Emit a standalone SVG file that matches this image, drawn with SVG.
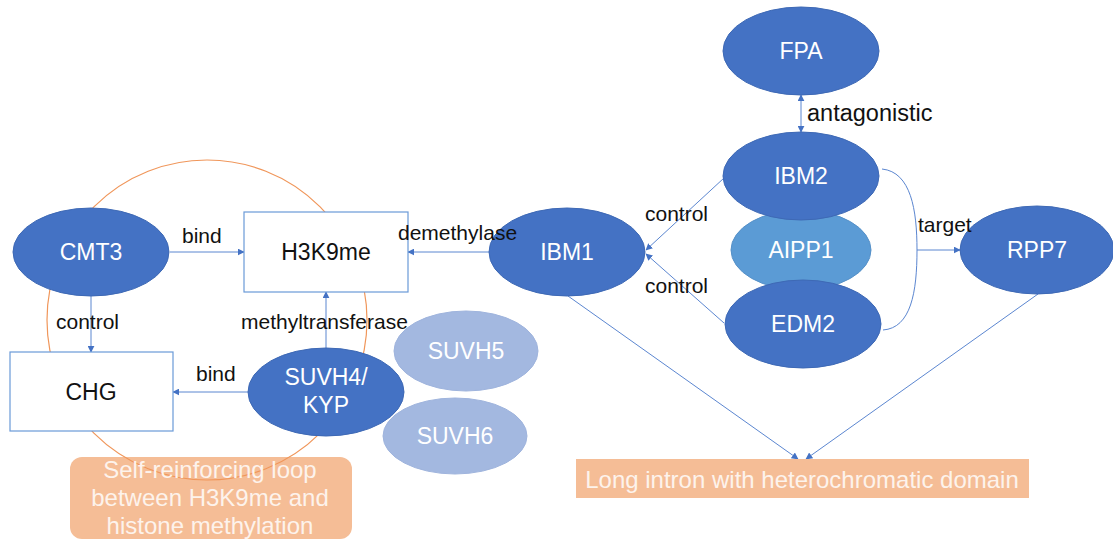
<svg xmlns="http://www.w3.org/2000/svg" width="1113" height="539" viewBox="0 0 1113 539">
  <defs>
    <marker id="arrow" viewBox="0 0 10 10" refX="9" refY="5" markerWidth="7" markerHeight="7" orient="auto-start-reverse" markerUnits="userSpaceOnUse">
      <path d="M0,0 L10,5 L0,10 z" fill="#4472c4"/>
    </marker>
    <style>
      .dark { fill: #4472c4; stroke: #3e69b5; stroke-width: 1; }
      .mid { fill: #5b9bd5; stroke: #5590c8; stroke-width: 1; }
      .pale { fill: #a3b8e0; stroke: #9fb4dd; stroke-width: 1; }
      .box { fill: #ffffff; stroke: #6a9ad8; stroke-width: 1.2; }
      .note { fill: #f5bd96; }
      .loop { fill: none; stroke: #f0965a; stroke-width: 1.2; }
      .edge { fill: none; stroke: #5b86d0; stroke-width: 1; }
      .nt { font-family: "Liberation Sans", "Noto Sans", sans-serif; font-size: 23px; fill: #ffffff; text-anchor: middle; }
      .bt { font-family: "Liberation Sans", "Noto Sans", sans-serif; font-size: 23px; fill: #111111; text-anchor: middle; }
      .lbl { font-family: "Liberation Sans", "Noto Sans", sans-serif; font-size: 21px; fill: #111111; }
      .wt { font-family: "Liberation Sans", "Noto Sans", sans-serif; font-size: 24px; fill: #fdf3ec; text-anchor: middle; }
    </style>
  </defs>

  <!-- note box for the loop, then the loop circle over it -->
  <g id="loop-note">
    <rect class="note" x="70" y="457" width="282" height="82" rx="12"/>
  </g>
  <circle id="loop" class="loop" cx="207" cy="320" r="160"/>
  <g id="loop-note-text">
    <text class="wt" x="210" y="478">Self-reinforcing loop</text>
    <text class="wt" x="210" y="506">between H3K9me and</text>
    <text class="wt" x="210" y="534">histone methylation</text>
  </g>

  <!-- connectors -->
  <g id="connectors">
    <line class="edge" x1="170" y1="252" x2="244" y2="252" marker-end="url(#arrow)"/>
    <line class="edge" x1="91" y1="296" x2="91" y2="352" marker-end="url(#arrow)"/>
    <line class="edge" x1="490" y1="252" x2="408" y2="252" marker-end="url(#arrow)"/>
    <line class="edge" x1="326" y1="348" x2="326" y2="292" marker-end="url(#arrow)"/>
    <line class="edge" x1="248" y1="392" x2="173" y2="392" marker-end="url(#arrow)"/>
    <line class="edge" x1="724" y1="178" x2="646" y2="250" marker-end="url(#arrow)"/>
    <line class="edge" x1="724" y1="323" x2="646" y2="254" marker-end="url(#arrow)"/>
    <line class="edge" x1="801" y1="95" x2="801" y2="132" marker-start="url(#arrow)" marker-end="url(#arrow)"/>
    <path class="edge" d="M 882 169 C 911 172, 917 210, 917 250 C 917 292, 911 328, 883 330"/>
    <line class="edge" x1="917" y1="250" x2="960" y2="250" marker-end="url(#arrow)"/>
    <line class="edge" x1="568" y1="296" x2="798" y2="459" marker-end="url(#arrow)"/>
    <line class="edge" x1="1038" y1="294" x2="806" y2="459" marker-end="url(#arrow)"/>
  </g>

  <!-- nodes -->
  <g id="node-h3k9me">
    <rect class="box" x="244" y="212" width="164" height="80"/>
    <text class="bt" x="326" y="260">H3K9me</text>
  </g>
  <g id="node-chg">
    <rect class="box" x="10" y="352" width="163" height="79"/>
    <text class="bt" x="91" y="400">CHG</text>
  </g>
  <g id="node-cmt3">
    <ellipse class="dark" cx="91" cy="252" rx="78" ry="44"/>
    <text class="nt" x="91" y="260">CMT3</text>
  </g>
  <g id="node-suvh5">
    <ellipse class="pale" cx="466" cy="351" rx="72" ry="40"/>
    <text class="nt" x="466" y="359">SUVH5</text>
  </g>
  <g id="node-suvh6">
    <ellipse class="pale" cx="455" cy="436" rx="72" ry="38"/>
    <text class="nt" x="455" y="444">SUVH6</text>
  </g>
  <g id="node-suvh4">
    <ellipse class="dark" cx="326" cy="392" rx="78" ry="44"/>
    <text class="nt" x="326" y="385">SUVH4/</text>
    <text class="nt" x="326" y="413">KYP</text>
  </g>
  <g id="node-ibm1">
    <ellipse class="dark" cx="567" cy="252" rx="78" ry="44"/>
    <text class="nt" x="567" y="260">IBM1</text>
  </g>
  <g id="node-fpa">
    <ellipse class="dark" cx="801" cy="51" rx="78" ry="44"/>
    <text class="nt" x="801" y="59">FPA</text>
  </g>
  <g id="node-aipp1">
    <ellipse class="mid" cx="801" cy="250" rx="70" ry="40"/>
    <text class="nt" x="801" y="258">AIPP1</text>
  </g>
  <g id="node-ibm2">
    <ellipse class="dark" cx="801" cy="176" rx="78" ry="44"/>
    <text class="nt" x="801" y="184">IBM2</text>
  </g>
  <g id="node-edm2">
    <ellipse class="dark" cx="803" cy="324" rx="78" ry="44"/>
    <text class="nt" x="803" y="332">EDM2</text>
  </g>
  <g id="node-rpp7">
    <ellipse class="dark" cx="1037" cy="250" rx="77" ry="44"/>
    <text class="nt" x="1037" y="258">RPP7</text>
  </g>
  <g id="node-long-intron">
    <rect class="note" x="576" y="459" width="453" height="39"/>
    <text class="wt" x="802" y="488">Long intron with heterochromatic domain</text>
  </g>

  <!-- connector labels, drawn above the nodes they overlap -->
  <g id="labels">
    <text class="lbl" x="182" y="243">bind</text>
    <text class="lbl" x="398" y="240">demethylase</text>
    <text class="lbl" x="56" y="329">control</text>
    <text class="lbl" x="241" y="329">methyltransferase</text>
    <text class="lbl" x="196" y="381">bind</text>
    <text class="lbl" x="645" y="221">control</text>
    <text class="lbl" x="645" y="293">control</text>
    <text class="lbl" x="918" y="232">target</text>
    <text class="lbl" x="807" y="121" style="font-size:23.5px">antagonistic</text>
  </g>
</svg>
